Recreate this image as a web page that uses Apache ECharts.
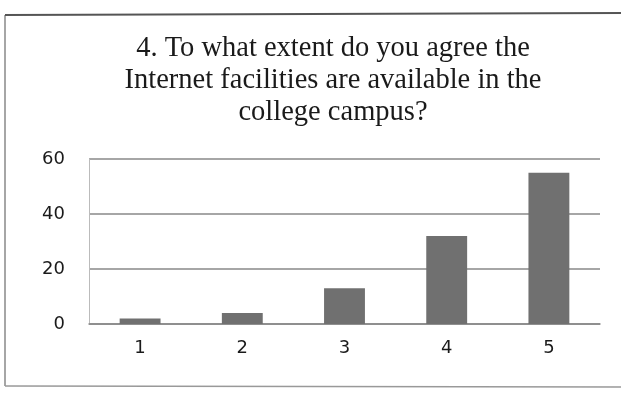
<!DOCTYPE html>
<html>
<head>
<meta charset="utf-8">
<script src="https://cdn.jsdelivr.net/npm/echarts@6/dist/echarts.min.js"></script>
<style>
html,body{margin:0;padding:0;background:#fff;}
#chart{width:621px;height:394px;}
</style>
</head>
<body>
<div id="chart"></div>
<script>
const titleText = "4. To what extent do you agree the\nInternet facilities are available in the\ncollege campus?";
const categories = ["1", "2", "3", "4", "5"];
const values = [2, 4, 13, 32, 55];
const yTicks = [0, 20, 40, 60];

const chart = echarts.init(document.getElementById('chart'));
chart.setOption({
  backgroundColor: '#ffffff',
  animation: false,
  title: {
    text: titleText,
    left: 328,
    top: 28,
    textAlign: 'center',
    textStyle: {
      fontFamily: 'Liberation Serif',
      fontSize: 28.5,
      fontWeight: 'normal',
      color: '#1a1a1a',
      lineHeight: 32
    }
  },
  graphic: [
    { type: 'line', shape: { x1: 5, y1: 15, x2: 5, y2: 386 }, style: { stroke: '#888', lineWidth: 1.5 } },
    { type: 'line', shape: { x1: 5, y1: 15, x2: 621, y2: 13 }, style: { stroke: '#555', lineWidth: 2 } },
    { type: 'line', shape: { x1: 5, y1: 386, x2: 621, y2: 387 }, style: { stroke: '#999', lineWidth: 1.5 } }
  ],
  grid: { left: 89, right: 21, top: 159, bottom: 70, containLabel: false },
  xAxis: {
    type: 'category',
    data: categories,
    axisLine: { show: true, lineStyle: { color: '#888', width: 1.5 } },
    axisTick: { show: false },
    axisLabel: { fontFamily: 'DejaVu Sans', fontSize: 18, color: '#1a1a1a', margin: 15 }
  },
  yAxis: {
    type: 'value',
    min: yTicks[0],
    max: yTicks[yTicks.length - 1],
    interval: 20,
    axisLine: { show: true, lineStyle: { color: '#bbb', width: 1 } },
    axisTick: { show: false },
    axisLabel: { fontFamily: 'DejaVu Sans', fontSize: 18, color: '#1a1a1a', margin: 24 },
    splitLine: { show: true, lineStyle: { color: '#888', width: 1.5 } }
  },
  series: [{
    type: 'bar',
    data: values,
    barWidth: '40%',
    itemStyle: { color: '#707070' }
  }]
});
</script>
</body>
</html>
